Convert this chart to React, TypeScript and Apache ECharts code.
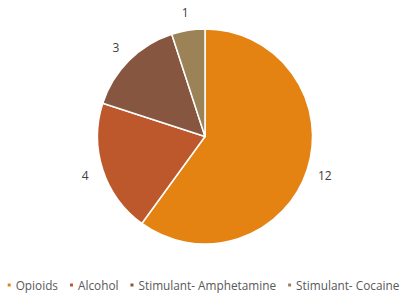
import React, { useEffect, useRef } from "react";
import * as echarts from "echarts";

const categories = ["Opioids", "Alcohol", "Stimulant- Amphetamine", "Stimulant- Cocaine"];
const values = [12, 4, 3, 1];
const colors = ["#E48312", "#BD582C", "#865640", "#9B8357"];

export default function App() {
  const ref = useRef<HTMLDivElement>(null);
  useEffect(() => {
    if (!ref.current) return;
    const chart = echarts.init(ref.current, null, { renderer: "svg" });
    const data = categories.map((name, i) => ({
      name,
      value: values[i],
      itemStyle: { color: colors[i] },
    }));
    chart.setOption({
      animation: false,
      textStyle: { fontFamily: "Open Sans" },
      legend: {
        bottom: 4,
        left: "center",
        width: 405,
        padding: 0,
        itemWidth: 5,
        itemHeight: 5,
        itemGap: 10,
        icon: "rect",
        textStyle: { fontSize: 11.8, color: "#595959", fontFamily: "Open Sans", padding: [0, 0, 0, -1] },
        data: categories.map((name, i) => ({ name, itemStyle: { color: colors[i] } })),
      },
      series: [
        {
          type: "pie",
          center: [205, 136.5],
          radius: [0, 107.5],
          startAngle: 90,
          clockwise: true,
          silent: true,
          label: { show: false },
          labelLine: { show: false },
          itemStyle: { borderColor: "#ffffff", borderWidth: 1.5 },
          data,
        },
        {
          type: "pie",
          center: [205, 136.5],
          radius: [118, 128],
          startAngle: 90,
          clockwise: true,
          silent: true,
          legendHoverLink: false,
          itemStyle: { color: "rgba(0,0,0,0)" },
          label: {
            show: true,
            position: "inside",
            formatter: "{c}",
            fontSize: 12,
            color: "#404040",
            fontFamily: "Open Sans",
          },
          labelLine: { show: false },
          data: categories.map((name, i) => ({ name, value: values[i] })),
        },
      ],
    });
    return () => chart.dispose();
  }, []);
  return <div ref={ref} style={{ width: 405, height: 295, position: "absolute", left: 0, top: 0 }} />;
}
